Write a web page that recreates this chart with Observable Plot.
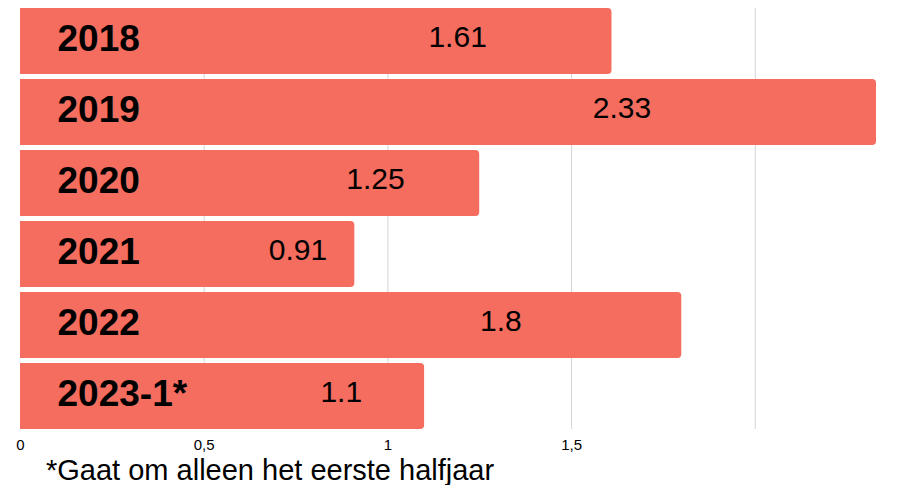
<!DOCTYPE html>
<html><head><meta charset="utf-8">
<script src="https://cdn.jsdelivr.net/npm/d3@7"></script>
<script src="https://cdn.jsdelivr.net/npm/@observablehq/plot@0.6"></script>
<style>
body{margin:0;background:#fff;font-family:"Liberation Sans",Arial,sans-serif;}
#note{font-size:29px;line-height:29px;padding-left:46px;color:#000;white-space:nowrap;}
</style></head><body>
<div id="chart"></div>
<div id="note">*Gaat om alleen het eerste halfjaar</div>
<script>
const years = ["2018","2019","2020","2021","2022","2023-1*"];
const values = [1.61, 2.33, 1.25, 0.91, 1.8, 1.1];
const valueLabels = ["1.61","2.33","1.25","0.91","1.8","1.1"];
const tickValues = [0, 0.5, 1, 1.5];
const tickLabels = ["0","0,5","1","1,5"];
const gridValues = [0.5, 1, 1.5, 2];

const data = years.map((y, i) => ({year: y, value: values[i], label: valueLabels[i]}));

const chart = Plot.plot({
  width: 919, height: 456,
  marginLeft: 20, marginRight: 43, marginTop: 8, marginBottom: 27,
  style: {fontFamily: "Liberation Sans, Arial, sans-serif", background: "#fff", color: "#000"},
  x: {domain: [0, 2.33], axis: null, label: null},
  y: {domain: years, axis: null, label: null, paddingInner: 0.07, paddingOuter: 0, round: false},
  marks: [
    Plot.ruleX(gridValues, {x: d => d, stroke: "#d4d4d4", strokeWidth: 1, strokeOpacity: 1}),
    Plot.barX(data, {x: "value", y: "year", fill: "#f46d5e", rx2: 4}),
    Plot.text(data, {x: () => 0, y: "year", text: "year", dx: 37, dy: -2, textAnchor: "start",
      fontWeight: "bold", fontSize: 37, fill: "#000"}),
    Plot.text(data, {x: d => d.value * 0.621 + 0.19, y: "year", text: "label", dy: -4,
      fontSize: 30, fill: "#000"}),
    Plot.axisX(tickValues, {tickSize: 0, tickPadding: 10, fontSize: 15, label: null,
      tickFormat: d => tickLabels[tickValues.indexOf(d)], fill: "#000"})
  ]
});
document.getElementById("chart").appendChild(chart);
</script>
</body></html>
